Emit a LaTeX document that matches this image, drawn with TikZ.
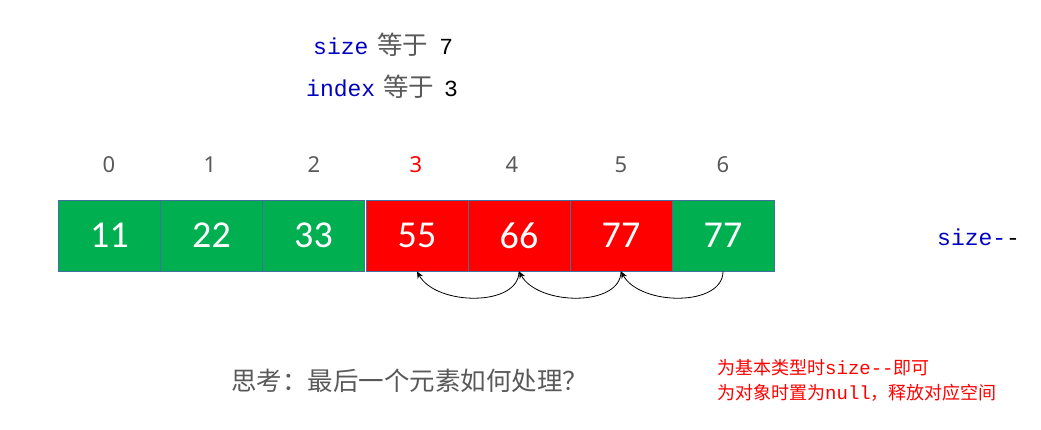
\documentclass[tikz,border=0pt]{standalone}
\usepackage{fontspec}
\setmainfont{Noto Sans}
\newfontfamily\cjk{Noto Sans CJK SC}
\newfontfamily\cellfont{Carlito}
\newfontfamily\monof{Liberation Mono}
\usetikzlibrary{arrows.meta}
\definecolor{cgreen}{HTML}{00B050}
\definecolor{cred}{HTML}{FF0000}
\definecolor{cborder}{HTML}{41719C}
\definecolor{kwblue}{HTML}{0000C0}
\definecolor{greytext}{HTML}{595959}
\begin{document}
\begin{tikzpicture}[x=1pt,y=-1pt,
  cell/.style={draw=cborder,line width=0.8pt,minimum width=102pt,minimum height=71pt,inner sep=0pt,text=white,font=\cellfont\fontsize{38}{40}\selectfont},
  gcell/.style={cell,fill=cgreen},
  rcell/.style={cell,fill=cred},
  idx/.style={font=\fontsize{22}{24}\selectfont,text=greytext},
  arc/.style={-{Stealth[length=7pt,width=6pt]},line width=0.8pt}]
\useasboundingbox (0,0) rectangle (1041,429);
% top text
\node[anchor=west,inner sep=0pt] (t1) at (313,45) {\monof\fontsize{23}{24}\selectfont\textcolor{kwblue}{size}\hspace{9pt}\cjk\fontsize{25.5}{26}\selectfont\textcolor{greytext}{等于}\hspace{11pt}\monof\fontsize{23}{24}\selectfont 7};
\node[anchor=west,inner sep=0pt] (t2) at (306,87) {\monof\fontsize{23}{24}\selectfont\textcolor{kwblue}{index}\hspace{8pt}\cjk\fontsize{25.5}{26}\selectfont\textcolor{greytext}{等于}\hspace{10pt}\monof\fontsize{23}{24}\selectfont 3};
% cells
\node[gcell] (c0) at (109.5,235.5) {11};
\node[gcell] (c1) at (211.5,235.5) {22};
\node[gcell] (c2) at (313.5,235.5) {33};
\node[rcell] (c3) at (417,235.5) {55};
\node[rcell] (c4) at (519,235.5) {66};
\node[rcell] (c5) at (621,235.5) {77};
\node[gcell] (c6) at (723,235.5) {77};
% indices
\node[idx] (i0) at (109,165) {0};
\node[idx] (i1) at (210,165) {1};
\node[idx] (i2) at (314,165) {2};
\node[idx,text=cred] (i3) at (416,165) {3};
\node[idx] (i4) at (512,165) {4};
\node[idx] (i5) at (621,165) {5};
\node[idx] (i6) at (723,165) {6};
% arcs
\draw[arc] (c6.south) .. controls (723,307) and (640,306) .. (c5.south);
\draw[arc] (c5.south) .. controls (621,307) and (538,306) .. (c4.south);
\draw[arc] (c4.south) .. controls (519,307) and (436,306) .. (c3.south);
% right label
\node[anchor=west,inner sep=0pt] (sz) at (937,237) {\monof\fontsize{23}{24}\selectfont\textcolor{kwblue}{size-}-};
% question
\node[anchor=west,inner sep=0pt,text=greytext] (q) at (231,381) {\cjk\fontsize{25.5}{27}\selectfont 思考：最后一个元素如何处理？};
% note
\node[anchor=west,inner sep=0pt,text=cred] (note1) at (717,368) {\cjk\fontsize{18}{20}\selectfont 为基本类型时{\monof\fontsize{19}{20}\selectfont size--}即可};
\node[anchor=west,inner sep=0pt,text=cred] (note2) at (717,393) {\cjk\fontsize{18}{20}\selectfont 为对象时置为{\monof\fontsize{19}{20}\selectfont null}，释放对应空间};
\end{tikzpicture}
\end{document}
